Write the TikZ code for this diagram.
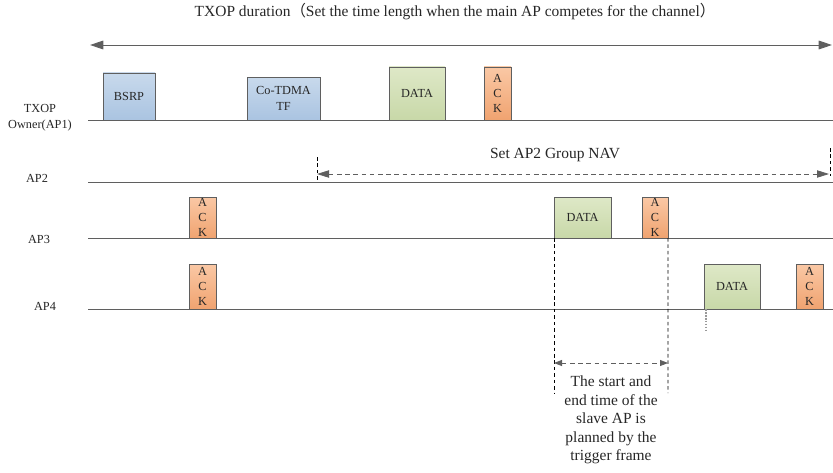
\documentclass[tikz,border=0pt]{standalone}
\usepackage{fontspec}
\usepackage{xcolor}
\setmainfont{Liberation Serif}
\newfontfamily\cjk{Noto Sans CJK SC}
\usetikzlibrary{arrows.meta}

\definecolor{lineg}{RGB}{95,95,95}
\definecolor{blueT}{RGB}{200,217,236}
\definecolor{blueB}{RGB}{170,196,225}
\definecolor{greenT}{RGB}{222,232,199}
\definecolor{greenB}{RGB}{200,216,168}
\definecolor{orangeT}{RGB}{250,200,165}
\definecolor{orangeB}{RGB}{240,163,112}

\tikzset{
  frame/.style={draw=lineg, line width=0.7pt, inner sep=0pt, outer sep=0pt, anchor=south west, align=center, text=black!85, font=\fontsize{10.5}{13}\selectfont},
  bluebox/.style={frame, top color=blueT, bottom color=blueB},
  greenbox/.style={frame, top color=greenT, bottom color=greenB},
  ackbox/.style={frame, top color=orangeT, bottom color=orangeB, minimum width=0.81cm},
  apname/.style={align=center, text=black!85, font=\fontsize{10.5}{13.5}\selectfont},
  bigtext/.style={align=center, text=black!85, font=\fontsize{13.2}{15.8}\selectfont},
  timeline/.style={draw=lineg, line width=0.8pt},
  vdash/.style={draw=black, line width=0.5pt, dash pattern=on 3pt off 2.5pt},
  navarrow/.style={draw=lineg, line width=0.7pt, dash pattern=on 4pt off 3pt, {Triangle[length=3.6mm, width=2.2mm]}-{Triangle[length=3.6mm, width=2.2mm]}},
  slotarrow/.style={draw=lineg, line width=0.7pt, dash pattern=on 4pt off 3pt, {Triangle[length=2.4mm, width=1.8mm]}-{Triangle[length=2.4mm, width=1.8mm]}}
}

\begin{document}
\begin{tikzpicture}[x=0.03cm, y=-0.03cm]
        \useasboundingbox (0,0) rectangle (833,472);

                % Title and TXOP arrow
                \node[bigtext] (title) at (455,12) {TXOP duration{\cjk（}Set the time length when the main AP competes for the channel{\cjk）}};
                \coordinate (txopL) at (90,45);
                \coordinate (txopR) at (832,45);
                \draw[draw=lineg, line width=0.8pt, {Triangle[length=4mm, width=2.6mm]}-{Triangle[length=4mm, width=2.6mm]}] (txopL) -- (txopR);

                % AP names
                \node[apname] (n1) at (40,118) {TXOP\\Owner(AP1)};
                \node[apname] (n2) at (37,178) {AP2};
                \node[apname] (n3) at (39,239) {AP3};
                \node[apname] (n4) at (45,306) {AP4};

                % Time lines
                \coordinate (s1) at (88,120);  \coordinate (e1) at (833,120);
                \coordinate (s2) at (88,182);  \coordinate (e2) at (833,182);
                \coordinate (s3) at (88,238);  \coordinate (e3) at (833,238);
                \coordinate (s4) at (88,309);  \coordinate (e4) at (833,309);
                \draw[timeline] (s1) -- (e1);
                \draw[timeline] (s2) -- (e2);
                \draw[timeline] (s3) -- (e3);
                \draw[timeline] (s4) -- (e4);

                % Frames of AP1
                \node[bluebox, minimum width=1.56cm, minimum height=1.41cm] (bsrp) at (103,120) {BSRP};
                \node[bluebox, minimum width=2.19cm, minimum height=1.29cm] (tf) at (247,120) {Co-TDMA\\TF};
                \node[greenbox, minimum width=1.68cm, minimum height=1.59cm] (data1) at (389,120) {DATA};
                \node[ackbox, minimum height=1.59cm] (ack1) at (484,120) {A\\C\\K};

                % Frames of AP3
                \node[ackbox, minimum height=1.23cm] (ack3a) at (189,238) {A\\C\\K};
                \node[greenbox, minimum width=1.71cm, minimum height=1.23cm] (data3) at (554,238) {DATA};
                \node[ackbox, minimum width=0.78cm, minimum height=1.23cm] (ack3b) at (642,238) {A\\C\\K};

                % Frames of AP4
                \node[ackbox, minimum height=1.35cm] (ack4a) at (189,309) {A\\C\\K};
                \node[greenbox, minimum width=1.68cm, minimum height=1.35cm] (data4) at (704,309) {DATA};
                \node[ackbox, minimum height=1.35cm] (ack4b) at (796,309) {A\\C\\K};

                % AP2 group NAV
                \coordinate (navL) at (317,174);
                \coordinate (navR) at (829,174);
                \coordinate (navLt) at (317,157);
                \coordinate (navLb) at (317,182);
                \coordinate (navRt) at (830,148);
                \coordinate (navRb) at (830,176);
                \draw[vdash] (navLt) -- (navLb);
                \draw[vdash] (navRt) -- (navRb);
                \draw[navarrow] (navL) -- (navR);
                \node[bigtext] (nav) at (555,155) {Set AP2 Group NAV};

                % Slot planned by the trigger frame
                \coordinate (slotL) at (554,393);
                \coordinate (slotR) at (668,393);
                \draw[vdash] (data3.south west) -- (slotL);
                \draw[vdash] (ack3b.south east) -- (slotR);
                \coordinate (armL) at (554,363);
                \coordinate (armR) at (668,363);
                \draw[slotarrow] (armL) -- (armR);
                \node[bigtext] (note) at (611,420) {The start and\\end time of the\\slave AP is\\planned by the\\trigger frame};

                % AP4 start mark
                \coordinate (mark) at (706,331);
                \draw[draw=black!40, line width=1.2pt, dash pattern=on 1.5pt off 1pt] (data4.south west) ++(2,0) -- (mark);

            \end{tikzpicture}
\end{document}
